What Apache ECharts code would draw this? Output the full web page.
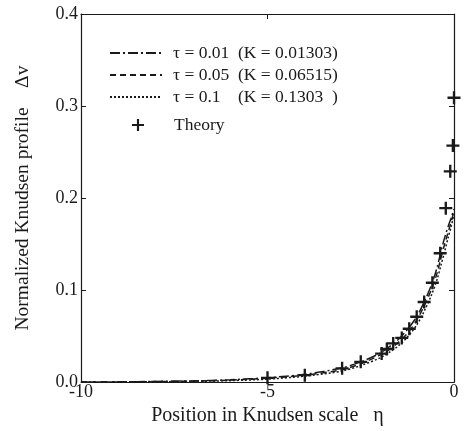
<!DOCTYPE html>
<html>
<head>
<meta charset="utf-8">
<script src="https://cdn.jsdelivr.net/npm/echarts@6/dist/echarts.min.js"></script>
<style>
  html, body { margin: 0; padding: 0; background: #fff; }
  #chart { width: 464px; height: 431px; }
</style>
</head>
<body>
<div id="chart"></div>
<script>
// position in Knudsen scale (eta) used for the simulated curves
const etaLine = [-10, -9, -8, -7, -6, -5, -4, -3, -2.5, -2, -1.75, -1.5, -1.25, -1, -0.8, -0.6, -0.45, -0.35, -0.25, -0.15, -0.07, 0];
const tau001 = [0, 0.0003, 0.0007, 0.0013, 0.0025, 0.0048, 0.0085, 0.0155, 0.022, 0.031, 0.038, 0.046, 0.057, 0.071, 0.087, 0.106, 0.125, 0.142, 0.157, 0.17, 0.179, 0.188];
const tau005 = [0, 0.0002, 0.0006, 0.0011, 0.0022, 0.0042, 0.0075, 0.0135, 0.020, 0.029, 0.035, 0.043, 0.053, 0.067, 0.083, 0.101, 0.119, 0.135, 0.15, 0.164, 0.175, 0.186];
const tau01 = [0, 0.0002, 0.0004, 0.0008, 0.0016, 0.0032, 0.0065, 0.012, 0.018, 0.026, 0.032, 0.039, 0.049, 0.062, 0.077, 0.095, 0.112, 0.127, 0.142, 0.158, 0.17, 0.183];

// theory points
const etaTheory = [0, -0.03, -0.1, -0.22, -0.37, -0.58, -0.8, -1.0, -1.2, -1.4, -1.63, -1.8, -1.94, -2.5, -3.0, -4.0, -5.0];
const theory = [0.309, 0.257, 0.229, 0.189, 0.140, 0.108, 0.087, 0.071, 0.058, 0.048, 0.042, 0.036, 0.031, 0.022, 0.015, 0.0075, 0.0046];

const names = ["τ = 0.01  (K = 0.01303)", "τ = 0.05  (K = 0.06515)", "τ = 0.1    (K = 0.1303  )", "Theory"];

const pair = (xs, ys) => xs.map((x, i) => [x, ys[i]]);
const font = "Liberation Serif";
const ink = "#1a1a1a";
const cross = "path://M4.1,0H5.9V4.1H10V5.9H5.9V10H4.1V5.9H0V4.1H4.1Z";

const chart = echarts.init(document.getElementById("chart"), null, { renderer: "canvas" });

const lineSeries = (name, ys, dash) => ({
  name: name,
  type: "line",
  data: pair(etaLine, ys),
  smooth: 0.3,
  symbol: "none",
  lineStyle: { color: ink, width: 1.5, type: dash },
  itemStyle: { color: ink },
  z: 2
});

const axisCommon = {
  axisLine: { show: true, onZero: false, lineStyle: { color: ink, width: 1.2 } },
  axisTick: { show: true, inside: true, length: 5, lineStyle: { color: ink } },
  splitLine: { show: false }
};

chart.setOption({
  animation: false,
  backgroundColor: "#fff",
  textStyle: { fontFamily: font },
  grid: { left: 81, right: 10, top: 14, bottom: 45 },
  legend: [
    {
      data: names.slice(0, 3),
      left: 104,
      top: 39,
      orient: "vertical",
      itemWidth: 52,
      itemHeight: 14,
      itemGap: 4,
      itemStyle: { color: "rgba(0,0,0,0)", borderWidth: 0 },
      textStyle: { fontFamily: font, fontSize: 17.5, color: ink, padding: [0, 0, 0, 6] }
    },
    {
      data: [{ name: names[3], icon: cross }],
      left: 127,
      top: 111,
      itemWidth: 12,
      itemHeight: 12,
      itemStyle: { opacity: 1 },
      textStyle: { fontFamily: font, fontSize: 17.5, color: ink, padding: [0, 0, 0, 25] }
    }
  ],
  xAxis: [
    Object.assign({}, axisCommon, {
      type: "value",
      min: -10,
      max: 0,
      interval: 5,
      name: "Position in Knudsen scale   η",
      nameLocation: "middle",
      nameGap: 23,
      nameTextStyle: { fontFamily: font, fontSize: 20, color: ink },
      axisLabel: { fontFamily: font, fontSize: 18, color: ink, margin: 1 }
    }),
    Object.assign({}, axisCommon, {
      type: "value",
      position: "top",
      min: -10,
      max: 0,
      interval: 5,
      axisLabel: { show: false }
    })
  ],
  yAxis: [
    Object.assign({}, axisCommon, {
      type: "value",
      min: 0,
      max: 0.4,
      interval: 0.1,
      name: "Normalized Knudsen profile    Δv",
      nameLocation: "middle",
      nameGap: 48,
      nameTextStyle: { fontFamily: font, fontSize: 19.5, color: ink },
      axisLabel: { fontFamily: font, fontSize: 18, color: ink, margin: 3, formatter: v => v.toFixed(1) }
    }),
    Object.assign({}, axisCommon, {
      type: "value",
      position: "right",
      min: 0,
      max: 0.4,
      interval: 0.1,
      axisLabel: { show: false }
    })
  ],
  series: [
    lineSeries(names[0], tau001, [10, 3, 2, 3]),
    lineSeries(names[1], tau005, [6, 4]),
    lineSeries(names[2], tau01, [2, 2]),
    {
      name: names[3],
      type: "scatter",
      data: pair(etaTheory, theory),
      symbol: cross,
      symbolSize: 13,
      clip: false,
      itemStyle: { color: ink, opacity: 1 },
      z: 3
    }
  ]
});
</script>
</body>
</html>
